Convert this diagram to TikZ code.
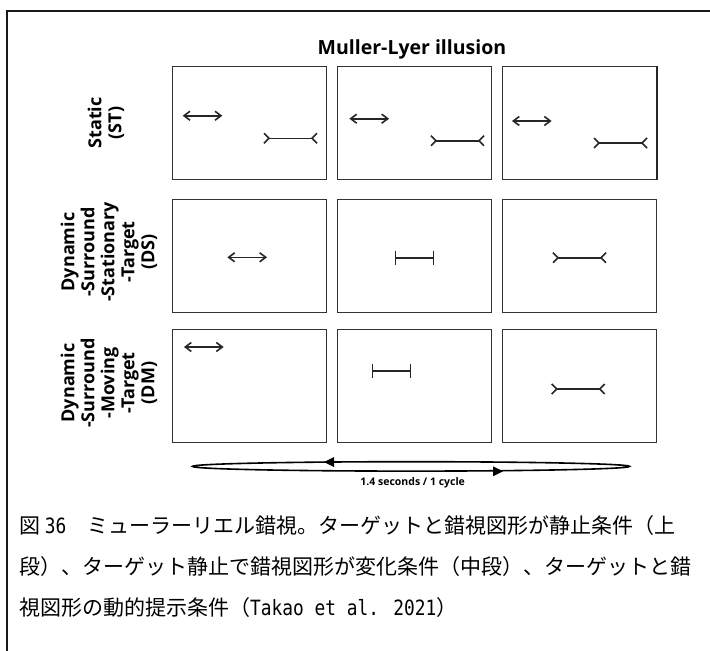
\documentclass[tikz,border=0pt]{standalone}
\usepackage{fontspec}
\setmainfont{Open Sans}
\newfontfamily\lab{Open Sans}
\newfontfamily\cjk{Noto Sans CJK JP}
\newfontfamily\lmono{DejaVu Sans Mono}[FakeStretch=0.85]
\newcommand\mlarrow[2]{%
  \begin{scope}[shift={(#1,#2)}]
    \draw[fig] (0,0) -- (37,0);
    \draw[fig] (6,-4.5) -- (0,0) -- (6,4.5);
    \draw[fig] (31,-4.5) -- (37,0) -- (31,4.5);
  \end{scope}}
\newcommand\mlfins[2]{%
  \begin{scope}[shift={(#1,#2)}]
    \draw[fig] (5,0) -- (48,0);
    \draw[fig] (0,-5) -- (5,0) -- (0,5);
    \draw[fig] (53,-5) -- (48,0) -- (53,5);
  \end{scope}}
\newcommand\mlbar[2]{%
  \begin{scope}[shift={(#1,#2)}]
    \draw[fig] (0,0) -- (38,0);
    \draw[fig] (0,-7) -- (0,7);
    \draw[fig] (38,-7) -- (38,7);
  \end{scope}}
\begin{document}
\begin{tikzpicture}[x=1pt,y=-1pt,
  panel/.style={draw=black!80, line width=1.4pt, minimum width=154pt, minimum height=113pt, inner sep=0pt, anchor=north west},
  fig/.style={draw=black!85, line width=1.6pt},
  rowlab/.style={rotate=90, align=center, font=\lab\bfseries\fontsize{18}{20}\selectfont, inner sep=0pt},
  capline/.style={anchor=west, inner sep=0pt, font=\cjk\fontsize{21}{21}\selectfont}]
\useasboundingbox (0,0) rectangle (710,651);
\fill[white] (0,0) rectangle (710,651);
% frame
\draw[line width=2pt, black!90] (7,660) -- (7,11) -- (720,11);
% title
\node[anchor=base, inner sep=0pt, font=\lab\bfseries\fontsize{19.5}{20}\selectfont] (title) at (412,54) {Muller-Lyer illusion};
% panels
\node[panel] (p11) at (172,66) {};
\node[panel] (p12) at (337,66) {};
\node[panel] (p13) at (502,66) {};
\node[panel] (p21) at (172,198.5) {};
\node[panel] (p22) at (337,198.5) {};
\node[panel] (p23) at (502,198.5) {};
\node[panel] (p31) at (172,328.5) {};
\node[panel] (p32) at (337,328.5) {};
\node[panel] (p33) at (502,328.5) {};
\draw[line width=2pt, black!85] (p13.north east) -- (p13.south east);
% row labels
\node[rowlab] (l1) at (106,123) {Static\\(ST)};
\node[rowlab] (l2) at (109,252) {Dynamic\\-Surround\\-Stationary\\-Target\\(DS)};
\node[rowlab] (l3) at (109,383) {Dynamic\\-Surround\\-Moving\\-Target\\(DM)};
% figures
\mlarrow{184}{115.7}
\mlfins{264}{138.3}
\mlarrow{350.7}{118.7}
\mlfins{431}{140.7}
\mlarrow{513.3}{121}
\mlfins{594}{143}
\mlarrow{228.7}{257.3}
\mlbar{395.3}{257.7}
\mlfins{553}{257.7}
\mlarrow{185.3}{347}
\mlbar{372.3}{371}
\mlfins{551.7}{389}
% cycle
\draw[line width=1.6pt] (411,466.4) ellipse [x radius=218.5, y radius=4.7];
\fill (324,462) -- (334,457) -- (334,467) -- cycle;
\fill (503,471.3) -- (493,466.3) -- (493,476.3) -- cycle;
\node[font=\lab\bfseries\fontsize{10.5}{12}\selectfont, inner sep=0pt] (cyc) at (412.7,483) {1.4 seconds / 1 cycle};
% caption
\node[capline] (c1) at (19,526) {図 {\lmono 36}　ミューラーリエル錯視。ターゲットと錯視図形が静止条件（上};
\node[capline] (c2) at (19,567) {段）、ターゲット静止で錯視図形が変化条件（中段）、ターゲットと錯};
\node[capline] (c3) at (19,608) {視図形の動的提示条件（{\lmono Takao et al. 2021}）};
\end{tikzpicture}
\end{document}
